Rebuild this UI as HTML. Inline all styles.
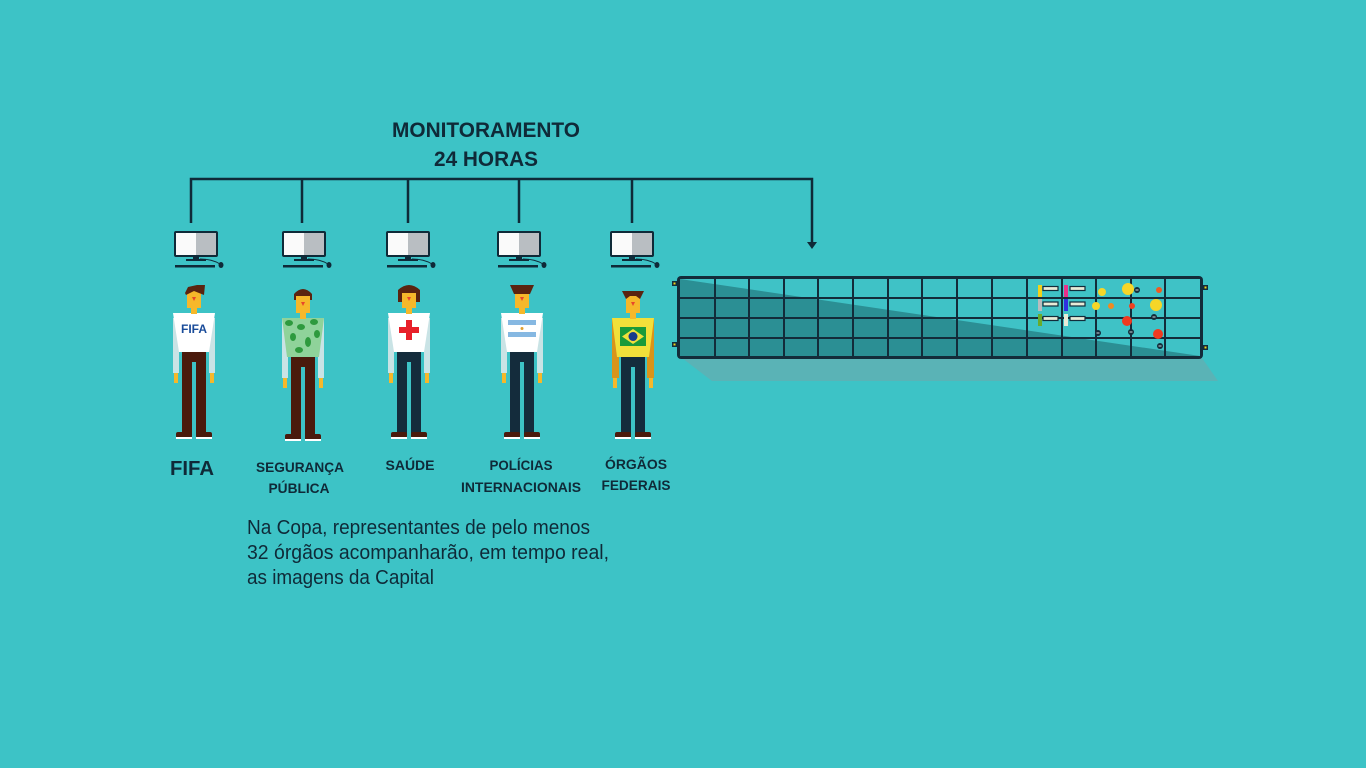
<!DOCTYPE html>
<html><head><meta charset="utf-8"><style>
html,body{margin:0;padding:0;background:#3dc3c6;}
svg{display:block}
text{font-family:"Liberation Sans",sans-serif;fill:#0f2a38}
</style></head><body>
<svg width="1366" height="768" viewBox="0 0 1366 768" xmlns="http://www.w3.org/2000/svg">
<rect width="1366" height="768" fill="#3dc3c6"/>
<defs>
<g id="mon">
 <rect x="-22" y="231" width="44" height="26" rx="2" fill="#0f2a38"/>
 <rect x="-20" y="233" width="20" height="22" fill="#fafafa"/>
 <rect x="0" y="233" width="20" height="22" fill="#b9bec2"/>
 <rect x="-3" y="257" width="6" height="3" fill="#0f2a38"/>
 <rect x="-10" y="259" width="20" height="2" fill="#0f2a38"/>
 <path d="M4 259 Q16 259 24 264" stroke="#0f2a38" stroke-width="1" fill="none"/>
 <ellipse cx="25" cy="265" rx="2.5" ry="3" fill="#0f2a38"/>
 <rect x="-21" y="265" width="40" height="2.5" fill="#0f2a38"/>
</g>
<g id="legsB">
 <rect x="-12" y="352" width="24" height="10" fill="#4a1a0c"/>
 <rect x="-12" y="352" width="10" height="82" fill="#4a1a0c"/>
 <rect x="2" y="352" width="10" height="82" fill="#4a1a0c"/>
</g>
<g id="legsN">
 <rect x="-12" y="352" width="24" height="10" fill="#142c3c"/>
 <rect x="-12" y="352" width="10" height="82" fill="#142c3c"/>
 <rect x="2" y="352" width="10" height="82" fill="#142c3c"/>
</g>
<g id="shoes">
 <rect x="-18" y="432" width="16" height="6" rx="2" fill="#4a1a0c"/>
 <rect x="2" y="432" width="16" height="6" rx="2" fill="#4a1a0c"/>
 <rect x="-18" y="437" width="16" height="2" fill="#fff"/>
 <rect x="2" y="437" width="16" height="2" fill="#fff"/>
</g>
<g id="head">
 <rect x="-3" y="306" width="6" height="8" fill="#f6b82a"/>
 <rect x="-7" y="290" width="14" height="18" fill="#f6b82a"/>
 <polygon points="-2,297 2,297 0,301" fill="#e8462c"/>
</g>
</defs>

<!-- title -->
<text x="486" y="137" font-size="21" font-weight="bold" text-anchor="middle" textLength="188" lengthAdjust="spacingAndGlyphs">MONITORAMENTO</text>
<text x="486" y="166" font-size="21" font-weight="bold" text-anchor="middle" textLength="104" lengthAdjust="spacingAndGlyphs">24 HORAS</text>

<!-- connectors -->
<g stroke="#0f2a38" stroke-width="2.5" fill="none">
<path d="M191 223 V179 H812 V243"/>
<path d="M302 179 V223 M408 179 V223 M519 179 V223 M632 179 V223"/>
</g>
<polygon points="807,242 817,242 812,249" fill="#0f2a38"/>

<!-- monitors -->
<use href="#mon" transform="translate(196,0)"/>
<use href="#mon" transform="translate(304,0)"/>
<use href="#mon" transform="translate(408,0)"/>
<use href="#mon" transform="translate(519,0)"/>
<use href="#mon" transform="translate(632,0)"/>

<!-- FIFA -->
<g transform="translate(194,0)">
 <rect x="-21" y="318" width="6" height="55" fill="#c9e3e5"/><rect x="15" y="318" width="6" height="55" fill="#c9e3e5"/>
 <rect x="-20" y="373" width="4" height="10" fill="#f6b82a"/><rect x="16" y="373" width="4" height="10" fill="#f6b82a"/>
 <use href="#legsB"/>
 <polygon points="-21,313 21,313 15,352 -15,352" fill="#fff"/>
 <use href="#head"/>
 <polygon points="-9,293 -6,287 3,285 11,285 10,295 0,291 -8,295" fill="#5a2410"/>
 <text x="0" y="333" font-size="12" font-weight="bold" text-anchor="middle" style="fill:#1a4c9a">FIFA</text>
 <use href="#shoes"/>
</g>
<!-- Seguranca -->
<g transform="translate(303,0)">
 <rect x="-21" y="318" width="6" height="60" fill="#c9e3e5"/><rect x="15" y="318" width="6" height="60" fill="#c9e3e5"/>
 <rect x="-20" y="378" width="4" height="10" fill="#f6b82a"/><rect x="16" y="378" width="4" height="10" fill="#f6b82a"/>
 <g transform="translate(0,5)"><use href="#legsB"/></g>
 <polygon points="-21,318 21,318 16,357 -16,357" fill="#8fd39a"/>
 <g fill="#2e9a3e"><ellipse cx="-14" cy="323" rx="4" ry="3"/><ellipse cx="-2" cy="327" rx="4" ry="3"/><ellipse cx="11" cy="322" rx="4" ry="3"/><ellipse cx="-10" cy="337" rx="3" ry="4"/><ellipse cx="5" cy="342" rx="3" ry="5"/><ellipse cx="14" cy="334" rx="3" ry="4"/><ellipse cx="-4" cy="350" rx="4" ry="3"/></g>
 <g transform="translate(0,5)"><use href="#head"/></g>
 <path d="M-9 300 V294 Q0 284 9 294 V300 H7 V296 H-7 V300 Z" fill="#5a2410"/>
 <g transform="translate(0,2)"><use href="#shoes"/></g>
</g>
<!-- Saude -->
<g transform="translate(409,0)">
 <rect x="-21" y="318" width="6" height="55" fill="#c9e3e5"/><rect x="15" y="318" width="6" height="55" fill="#c9e3e5"/>
 <rect x="-20" y="373" width="4" height="10" fill="#f6b82a"/><rect x="16" y="373" width="4" height="10" fill="#f6b82a"/>
 <use href="#legsN"/>
 <polygon points="-21,313 21,313 15,352 -15,352" fill="#fff"/>
 <use href="#head"/>
 <path d="M-11 302 V290 Q0 280 11 290 V302 H7 V293 H-7 V302 Z" fill="#5a2410"/>
 <rect x="-10" y="327" width="20" height="6" fill="#e8202a"/><rect x="-3" y="320" width="6" height="20" fill="#e8202a"/>
 <use href="#shoes"/>
</g>
<!-- Policias -->
<g transform="translate(522,0)">
 <rect x="-21" y="318" width="6" height="55" fill="#c9e3e5"/><rect x="15" y="318" width="6" height="55" fill="#c9e3e5"/>
 <rect x="-20" y="373" width="4" height="10" fill="#f6b82a"/><rect x="16" y="373" width="4" height="10" fill="#f6b82a"/>
 <use href="#legsN"/>
 <polygon points="-21,313 21,313 15,352 -15,352" fill="#fff"/>
 <use href="#head"/>
 <polygon points="-12,285 12,285 8,294 -8,294" fill="#5a2410"/>
 <rect x="-14" y="320" width="28" height="5" fill="#86b8e2"/><rect x="-14" y="332" width="28" height="5" fill="#86b8e2"/>
 <circle cx="0" cy="328.5" r="1.5" fill="#e0a030"/>
 <use href="#shoes"/>
</g>
<!-- Orgaos -->
<g transform="translate(633,0)">
 <rect x="-21" y="318" width="7" height="60" fill="#d9941a"/><rect x="14" y="318" width="7" height="60" fill="#d9941a"/>
 <rect x="-20" y="378" width="4" height="10" fill="#f6b82a"/><rect x="16" y="378" width="4" height="10" fill="#f6b82a"/>
 <g transform="translate(0,5)"><use href="#legsN"/></g>
 <polygon points="-21,318 21,318 16,357 -16,357" fill="#f2e03a"/>
 <rect x="-13" y="327" width="26" height="19" fill="#1a9a3a"/>
 <polygon points="0,329 11,336.5 0,344 -11,336.5" fill="#f2e03a"/>
 <circle cx="0" cy="336.5" r="4.5" fill="#1a3a8a"/>
 <g transform="translate(0,5)"><use href="#head"/></g>
 <polygon points="-11,291 11,291 7,299 3,296 -3,296 -7,299" fill="#5a2410"/>
 <use href="#shoes"/>
</g>

<!-- labels -->
<text x="192" y="475" font-size="20" font-weight="bold" text-anchor="middle" textLength="44" lengthAdjust="spacingAndGlyphs">FIFA</text>
<g font-size="14" font-weight="bold" text-anchor="middle">
<text x="300" y="472" textLength="88" lengthAdjust="spacingAndGlyphs">SEGURANÇA</text>
<text x="299" y="493" textLength="61" lengthAdjust="spacingAndGlyphs">PÚBLICA</text>
<text x="410" y="470" textLength="49" lengthAdjust="spacingAndGlyphs">SAÚDE</text>
<text x="521" y="470" textLength="63" lengthAdjust="spacingAndGlyphs">POLÍCIAS</text>
<text x="521" y="492" textLength="120" lengthAdjust="spacingAndGlyphs">INTERNACIONAIS</text>
<text x="636" y="469" textLength="62" lengthAdjust="spacingAndGlyphs">ÓRGÃOS</text>
<text x="636" y="490" textLength="69" lengthAdjust="spacingAndGlyphs">FEDERAIS</text>
</g>
<g font-size="20">
<text x="247" y="534" textLength="343" lengthAdjust="spacingAndGlyphs">Na Copa, representantes de pelo menos</text>
<text x="247" y="559" textLength="362" lengthAdjust="spacingAndGlyphs">32 órgãos acompanharão, em tempo real,</text>
<text x="247" y="584" textLength="187" lengthAdjust="spacingAndGlyphs">as imagens da Capital</text>
</g>

<!-- panel -->
<polygon points="682,358 1202,358 1218,381 712,381" fill="#5ab3b6"/>
<rect x="677" y="276" width="526" height="83" rx="4" fill="#132c3a"/>
<rect x="680" y="279" width="520" height="77" fill="#3fc2c6"/>
<polygon points="680,279 1200,356 680,356" fill="#2b8f94"/>
<g stroke="#132c3a" stroke-width="2">
<path d="M680 298 H1200 M680 318 H1200 M680 338 H1200"/>
<path d="M715 279V356 M749 279V356 M784 279V356 M818 279V356 M853 279V356 M888 279V356 M922 279V356 M957 279V356 M992 279V356 M1027 279V356 M1062 279V356 M1096 279V356 M1131 279V356 M1165 279V356"/>
</g>
<g fill="#132c3a"><rect x="672" y="281" width="5" height="5"/><rect x="672" y="342" width="5" height="5"/><rect x="1203" y="285" width="5" height="5"/><rect x="1203" y="345" width="5" height="5"/></g>
<g fill="#f2d21a"><rect x="673.5" y="282.5" width="2" height="2"/><rect x="673.5" y="343.5" width="2" height="2"/><rect x="1204.5" y="286.5" width="2" height="2"/><rect x="1204.5" y="346.5" width="2" height="2"/></g>
<!-- legend -->
<rect x="1038" y="285" width="4" height="12" fill="#f2d21a"/>
<rect x="1064" y="285" width="4" height="12" fill="#e8308a"/>
<rect x="1038" y="299" width="4" height="12" fill="#b8bcbe"/>
<rect x="1064" y="299" width="4" height="12" fill="#3030e0"/>
<rect x="1038" y="314" width="4" height="12" fill="#6aaa2a"/>
<rect x="1064" y="314" width="4" height="12" fill="#e8ecd8"/>
<g fill="#e8ecd8" stroke="#132c3a" stroke-width="1.2">
<rect x="1043" y="286.5" width="15" height="4"/><rect x="1070" y="286.5" width="15" height="4"/>
<rect x="1043" y="302" width="15" height="4"/><rect x="1070" y="302" width="15" height="4"/>
<rect x="1043" y="316.5" width="15" height="4"/><rect x="1070" y="316.5" width="15" height="4"/>
</g>
<g>
<circle cx="1102" cy="292" r="4" fill="#f6d628"/>
<circle cx="1128" cy="289" r="6" fill="#f6d628"/>
<circle cx="1159" cy="290" r="3" fill="#f05a20"/>
<circle cx="1096" cy="306" r="4" fill="#f6d628"/>
<circle cx="1111" cy="306" r="3" fill="#f08a20"/>
<circle cx="1132" cy="306" r="3" fill="#f04020"/>
<circle cx="1156" cy="305" r="6" fill="#f6d628"/>
<circle cx="1127" cy="321" r="5" fill="#f03a20"/>
<circle cx="1158" cy="334" r="5" fill="#f03a20"/>
</g>
<g fill="#132c3a">
<circle cx="1137" cy="290" r="3"/><circle cx="1154" cy="317" r="3"/><circle cx="1098" cy="333" r="3"/><circle cx="1131" cy="332" r="3"/><circle cx="1160" cy="346" r="3"/>
</g>
<g fill="#cfd8dc"><rect x="1135.5" y="289.5" width="3" height="1"/><rect x="1152.5" y="316.5" width="3" height="1"/><rect x="1096.5" y="332.5" width="3" height="1"/><rect x="1129.5" y="331.5" width="3" height="1"/><rect x="1158.5" y="345.5" width="3" height="1"/></g>
</svg>
</body></html>
